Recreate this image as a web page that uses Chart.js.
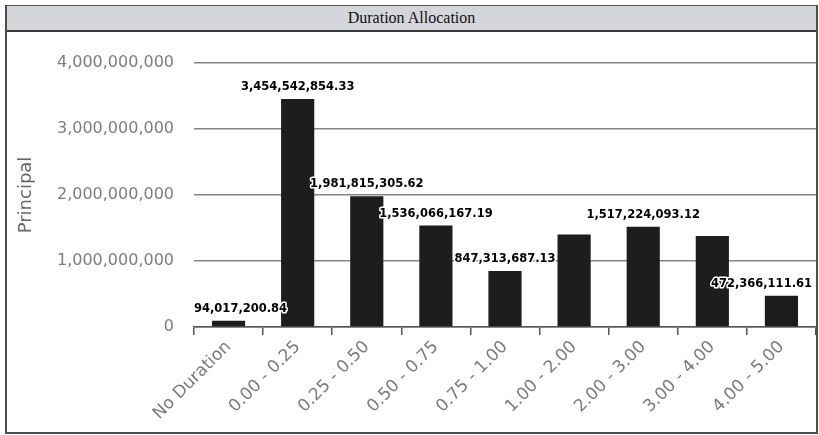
<!DOCTYPE html>
<html>
<head>
<meta charset="utf-8">
<script src="https://cdn.jsdelivr.net/npm/chart.js@4.4.0/dist/chart.umd.min.js"></script>
<style>
  body { margin:0; background:#fff; width:819px; height:435px; overflow:hidden; position:relative; }
  #frame { position:absolute; left:5px; top:5px; width:813px; height:429px; box-sizing:border-box; border:2px solid #4d4d4d; border-top:1px solid #555; }
  #title { height:24px; background:#d5d6da; border-bottom:2px solid #3a3a3a; text-align:center;
           font:16px "Liberation Serif", "Times New Roman", serif; line-height:24px; color:#111; }
  #wrap { position:absolute; left:7px; top:32px; width:809px; height:400px; }
</style>
</head>
<body>
<div id="frame"><div id="title">Duration Allocation</div></div>
<div id="wrap"><canvas id="durChart" width="809" height="400"></canvas></div>
<script>
// data
const buckets = ['No Duration', '0.00 - 0.25', '0.25 - 0.50', '0.50 - 0.75', '0.75 - 1.00',
                 '1.00 - 2.00', '2.00 - 3.00', '3.00 - 4.00', '4.00 - 5.00'];
const principal = [94017200.84, 3454542854.33, 1981815305.62, 1536066167.19, 847313687.13,
                   1400000000, 1517224093.12, 1380000000, 472366111.61];
// which bars carry a value label in the original
const showLabel = [true, true, true, true, true, false, true, false, true];
const yTicks = [0, 1000000000, 2000000000, 3000000000, 4000000000];

function fmt(v) {
  return v.toLocaleString('en-US', { minimumFractionDigits: 2, maximumFractionDigits: 2 });
}

// value labels above the bars, pushed inside the plot when they would spill out
const barLabels = {
  id: 'barLabels',
  afterDatasetsDraw(chart) {
    const ctx = chart.ctx;
    const area = chart.chartArea;
    const meta = chart.getDatasetMeta(0);
    ctx.save();
    ctx.font = 'bold 11.5px "DejaVu Sans", Arial, sans-serif';
    ctx.textAlign = 'center';
    ctx.textBaseline = 'middle';
    ctx.lineJoin = 'round';
    meta.data.forEach((bar, i) => {
      if (!showLabel[i]) return;
      const text = fmt(principal[i]);
      const w = ctx.measureText(text).width;
      let x = bar.x;
      x = Math.min(x, area.right - 4 - w / 2);
      x = Math.max(x, area.left + w / 2);
      const y = bar.y - 12;
      ctx.lineWidth = 3;
      ctx.strokeStyle = '#fff';
      ctx.strokeText(text, x, y);
      ctx.fillStyle = '#000';
      ctx.fillText(text, x, y);
    });
    ctx.restore();
  }
};

const ctx = document.getElementById('durChart').getContext('2d');
new Chart(ctx, {
  type: 'bar',
  data: {
    labels: buckets,
    datasets: [{
      label: 'Principal',
      data: principal,
      backgroundColor: '#1d1d1d',
      borderWidth: 0,
      barPercentage: 0.48,
      categoryPercentage: 1
    }]
  },
  options: {
    responsive: false,
    animation: false,
    layout: { padding: { top: 31, right: 0, bottom: 0, left: 0 } },
    plugins: {
      legend: { display: false },
      tooltip: { enabled: false }
    },
    scales: {
      x: {
        afterFit: (s) => { s.height = 105; },
        grid: { drawOnChartArea: false, drawTicks: true, tickLength: 8, color: '#555', lineWidth: 1.5 },
        border: { display: true, color: '#555', width: 1.5 },
        ticks: {
          color: '#7a7a7a',
          font: { family: '"DejaVu Sans", Arial, sans-serif', size: 17 },
          minRotation: 45, maxRotation: 45,
          padding: 2,
          autoSkip: false
        }
      },
      y: {
        min: 0,
        max: 4000000000,
        afterFit: (s) => { s.width = 187; },
        afterBuildTicks: (s) => { s.ticks = yTicks.map(v => ({ value: v })); },
        grid: { drawTicks: false, color: '#858585', lineWidth: 1.5 },
        border: { display: false },
        ticks: {
          color: '#7d7d7d',
          font: { family: '"DejaVu Sans", Arial, sans-serif', size: 16 },
          padding: 20,
          callback: (v) => v.toLocaleString('en-US')
        },
        title: {
          display: true,
          text: 'Principal',
          color: '#666',
          font: { family: '"DejaVu Sans", Arial, sans-serif', size: 18 },
          padding: { top: 9, bottom: 0 }
        }
      }
    }
  },
  plugins: [barLabels]
});
</script>
</body>
</html>
